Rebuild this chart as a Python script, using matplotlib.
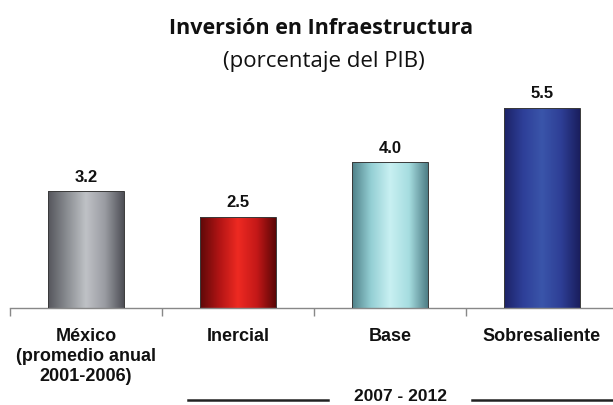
import numpy as np
import matplotlib
matplotlib.use("Agg")
import matplotlib.pyplot as plt
from matplotlib.colors import LinearSegmentedColormap

# data
categories = ["México\n(promedio anual\n2001-2006)", "Inercial", "Base", "Sobresaliente"]
values = [3.2, 2.5, 4.0, 5.5]
value_labels = ["3.2", "2.5", "4.0", "5.5"]
period_label = "2007 - 2012"

# cylinder-like shading for each bar (left edge, highlight, right edge)
bar_shades = [
    ["#55565c", "#8a8d92", "#bfc2c6", "#9a9ca2", "#4e4f56"],
    ["#5e0808", "#b01414", "#ee2a22", "#c41818", "#5a0606"],
    ["#4f8088", "#94cfd4", "#c8f0f2", "#a6dde0", "#4e7e86"],
    ["#1c2266", "#2e3f98", "#3a55aa", "#2e3f96", "#1a1e5e"],
]

fig = plt.figure(figsize=(6.13, 4.05), dpi=100)
W, H = 613, 405
# axis: first category boundary at x=10px, baseline at y=307px
ax = fig.add_axes([10 / W, 1 - 307.5 / H, 608 / W, (307.5 - 89.5) / H])
ax.set_xlim(-0.5, 3.5)
ax.set_ylim(0, 6)

x = np.arange(len(values))
bars = ax.bar(x, values, width=0.5, color="none", edgecolor="#3a3a3a",
              linewidth=0.7, zorder=3)

grad = np.linspace(0, 1, 256).reshape(1, -1)
for b, shades in zip(bars, bar_shades):
    cmap = LinearSegmentedColormap.from_list("s", shades)
    x0, y0 = b.get_x(), b.get_y()
    ax.imshow(grad, cmap=cmap, aspect="auto", zorder=2,
              extent=(x0, x0 + b.get_width(), y0, y0 + b.get_height()))

for xi, v, lab in zip(x, values, value_labels):
    ax.text(xi, v + 0.17, lab, ha="center", va="bottom", fontsize=12,
            fontweight="bold", family="Liberation Sans", color="#111111")

ax.set_xlim(-0.5, 3.5)
ax.set_ylim(0, 6)

for s in ["top", "right", "left"]:
    ax.spines[s].set_visible(False)
ax.spines["bottom"].set_color("#888888")
ax.spines["bottom"].set_linewidth(1.0)
ax.set_yticks([])

# ticks on category boundaries, labels at centres
ax.set_xticks(np.arange(-0.5, 3.5, 1.0))
ax.set_xticklabels([])
ax.tick_params(axis="x", which="major", direction="out", length=6,
               color="#888888", width=1.0)
ax.set_xticks(x, categories, minor=True)
ax.tick_params(axis="x", which="minor", length=0, pad=15)
for t in ax.get_xticklabels(minor=True):
    t.set_fontfamily("Liberation Sans")
    t.set_fontweight("bold")
    t.set_fontsize(13)
    t.set_linespacing(1.2)
    t.set_color("#111111")

fig.text(321 / W, 1 - 29 / H, "Inversión en Infraestructura", ha="center",
         va="center", fontsize=15.5, fontweight="bold", family="Open Sans",
         color="#111111")
fig.text(324 / W, 1 - 61 / H, "(porcentaje del PIB)", ha="center",
         va="center", fontsize=16, family="Open Sans", color="#111111")

# period bracket under the 2007-2012 scenarios
fig.text(401 / W, 1 - 404 / H, period_label, ha="center", va="bottom",
         fontsize=12.5, fontweight="bold", family="Liberation Sans",
         color="#111111")
fig.add_artist(plt.Line2D([188 / W, 328 / W], [1 - 400 / H] * 2,
                          color="#222222", linewidth=1.8))
fig.add_artist(plt.Line2D([472 / W, 1.0], [1 - 400 / H] * 2,
                          color="#222222", linewidth=1.8))

fig.savefig("out.png", dpi=100, facecolor="white")
